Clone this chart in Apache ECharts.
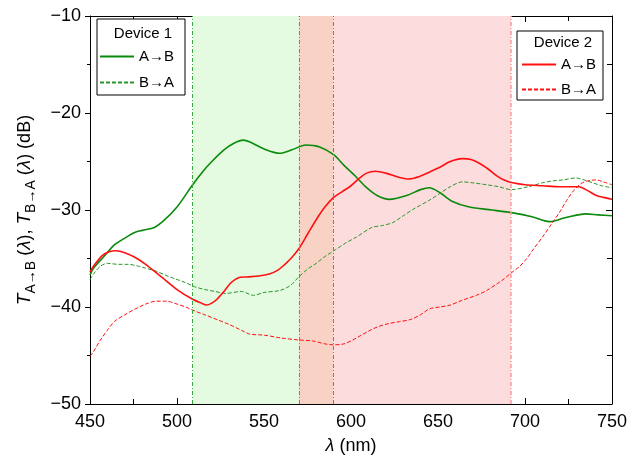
<!DOCTYPE html>
<html>
<head>
<meta charset="utf-8">
<script src="https://cdn.jsdelivr.net/npm/echarts@6/dist/echarts.min.js"></script>
<style>
  html, body { margin: 0; padding: 0; background: #fff; }
  #chart { width: 630px; height: 464px; }
</style>
</head>
<body>
<div id="chart"></div>
<script>
// wavelength (nm) and transmission (dB) for each trace
const wl1AB = [450, 452, 458, 464, 470, 476, 480, 487, 493, 500, 509, 515, 520, 527, 533, 538, 542, 550, 559, 566, 574, 582, 590, 596, 603, 609, 615, 622, 632, 640, 645, 651, 658, 668, 681, 693, 704, 714, 723, 735, 742, 750]
const dev1AB = [-36.7, -36.0, -34.8, -33.6, -32.9, -32.3, -32.1, -31.8, -31.0, -29.7, -27.4, -26.0, -25.0, -23.8, -23.1, -22.8, -23.0, -23.7, -24.15, -23.8, -23.3, -23.5, -24.3, -25.4, -26.6, -27.7, -28.5, -28.9, -28.5, -27.9, -27.7, -28.2, -29.1, -29.7, -30.0, -30.3, -30.7, -31.2, -30.8, -30.4, -30.5, -30.6]

const wl1BA = [450, 452, 456, 460, 466, 472, 478, 482, 488, 493, 499, 505, 510, 516, 522, 528, 537, 544, 550, 559, 565, 570, 575, 580, 585, 591, 597, 603, 612, 618, 624, 630, 636, 645, 651, 657, 664, 670, 678, 685, 692, 702, 710, 716, 722, 729, 734, 739, 744, 750]
const dev1BA = [-37.2, -36.6, -35.8, -35.5, -35.6, -35.6, -35.8, -36.0, -36.3, -36.7, -37.1, -37.5, -37.9, -38.2, -38.4, -38.6, -38.4, -38.8, -38.5, -38.3, -37.8, -36.9, -36.1, -35.5, -34.8, -34.1, -33.4, -32.8, -31.8, -31.6, -31.3, -30.6, -29.9, -29.0, -28.3, -27.6, -27.1, -27.2, -27.4, -27.6, -27.9, -27.6, -27.2, -27.0, -26.9, -26.7, -26.9, -27.2, -27.5, -27.7]

const wl2AB = [450, 452, 457, 461, 465, 470, 476, 482, 491, 500, 509, 514, 517, 520, 523, 527, 531, 535, 540, 547, 553, 558, 562, 566, 570, 575, 580, 585, 590, 595, 600, 605, 609, 614, 620, 627, 633, 640, 645, 651, 657, 664, 669, 674, 679, 684, 688, 693, 700, 710, 720, 731, 736, 741, 745, 750]
const dev2AB = [-36.4, -35.8, -34.7, -34.3, -34.2, -34.4, -34.9, -35.6, -36.9, -38.2, -39.2, -39.6, -39.8, -39.6, -39.2, -38.4, -37.5, -37.0, -36.9, -36.8, -36.6, -36.2, -35.6, -34.9, -34.0, -32.5, -31.0, -29.7, -28.7, -28.1, -27.5, -26.7, -26.2, -26.0, -26.2, -26.6, -26.8, -26.5, -26.1, -25.6, -25.0, -24.7, -24.8, -25.2, -25.8, -26.5, -26.9, -27.2, -27.4, -27.5, -27.6, -27.6, -28.0, -28.5, -28.7, -28.9]

const wl2BA = [450, 452, 456, 460, 464, 470, 476, 482, 488, 494, 500, 505, 510, 516, 523, 530, 537, 542, 550, 560, 570, 578, 585, 590, 596, 601, 606, 611, 616, 622, 628, 634, 640, 645, 651, 657, 664, 672, 678, 684, 688, 692, 697, 701, 705, 710, 715, 720, 724, 728, 732, 736, 741, 745, 750]
const dev2BA = [-45.1, -44.6, -43.4, -42.4, -41.5, -40.8, -40.2, -39.7, -39.4, -39.4, -39.7, -40.0, -40.4, -40.8, -41.3, -41.8, -42.4, -42.8, -42.9, -43.2, -43.4, -43.5, -43.8, -43.9, -43.8, -43.4, -42.9, -42.4, -42.0, -41.7, -41.5, -41.3, -40.8, -40.2, -40.0, -39.8, -39.3, -38.8, -38.3, -37.6, -37.1, -36.5, -35.8, -35.0, -34.0, -32.8, -31.5, -30.2, -29.0, -28.0, -27.3, -27.0, -26.9, -27.1, -27.4]

// shaded wavelength bands (nm)
const greenBand = [509, 590]
const redBand = [570, 692]

const GREEN = '#0a8a0a'
const RED = '#ff1010'
const FONT = 'Liberation Sans, Arial, sans-serif'

const pairs = (xs, ys) => xs.map((x, i) => [x, ys[i]])
const minus = (v) => String(v).replace('-', '\u2212')

const chart = echarts.init(document.getElementById('chart'))

const xBase = {
	type: 'value', min: 450, max: 750, interval: 50,
	axisLine: { onZero: false, lineStyle: { color: '#000', width: 1 } },
	splitLine: { show: false },
	minorTick: { show: true, splitNumber: 2, length: 5, lineStyle: { color: '#000' } },
	axisTick: { inside: true, length: 6, lineStyle: { color: '#000' } }
}
const yBase = {
	type: 'value', min: -50, max: -10, interval: 10,
	axisLine: { onZero: false, lineStyle: { color: '#000', width: 1 } },
	splitLine: { show: false },
	minorTick: { show: true, splitNumber: 2, length: 5, lineStyle: { color: '#000' } },
	axisTick: { inside: true, length: 6, lineStyle: { color: '#000' } }
}

// legend box with no marker dot, only the line sample
const legendBase = {
	orient: 'vertical',
	itemWidth: 34, itemHeight: 12,
	borderColor: '#000', borderWidth: 1, borderRadius: 0,
	backgroundColor: '#fff',
	itemStyle: { opacity: 0, color: 'transparent', borderWidth: 0 },
	textStyle: { fontSize: 15, color: '#000' },
	formatter: (name) => name.split(' ').pop()
}

chart.setOption({
	animation: false,
	textStyle: { fontFamily: FONT },
	grid: { left: 90, right: 17, top: 16, bottom: 60 },
	xAxis: [
		{
			...xBase,
			position: 'bottom',
			name: '{i|λ} (nm)',
			nameLocation: 'middle',
			nameGap: 33,
			nameTextStyle: { fontSize: 18, color: '#000', rich: { i: { fontStyle: 'italic', fontSize: 18 } } },
			axisLabel: { fontSize: 18, color: '#000', margin: 9 }
		},
		{ ...xBase, position: 'top', axisLabel: { show: false } }
	],
	yAxis: [
		{
			...yBase,
			position: 'left',
			axisTick: { inside: false, length: 5, lineStyle: { color: '#000' } },
			minorTick: { show: true, splitNumber: 2, length: 3, lineStyle: { color: '#000' } },
			name: '{i|T}{s|A→B} ({i|λ}), {i|T}{s|B→A} ({i|λ}) (dB)',
			nameLocation: 'middle',
			nameGap: 52,
			nameTextStyle: {
				fontSize: 18, color: '#000',
				rich: {
					i: { fontStyle: 'italic', fontSize: 19, verticalAlign: 'middle' },
					s: { fontSize: 14, verticalAlign: 'bottom', lineHeight: 26 }
				}
			},
			axisLabel: { fontSize: 18, color: '#000', margin: 9, formatter: minus }
		},
		{ ...yBase, position: 'right', axisLabel: { show: false } }
	],
	legend: [
		{
			...legendBase,
			data: ['Device 1 A→B', 'Device 1 B→A'],
			left: 97, top: 19,
			padding: [30, 11, 5, 2],
			itemGap: 11
		},
		{
			...legendBase,
			data: ['Device 2 A→B', 'Device 2 B→A'],
			left: 517, top: 31,
			padding: [26, 7, 3, 4],
			itemGap: 10
		}
	],
	graphic: [
		{ type: 'text', x: 143, y: 34, z: 100, style: { text: 'Device 1', font: '15px ' + FONT, fill: '#000', align: 'center', verticalAlign: 'middle' } },
		{ type: 'text', x: 563, y: 43, z: 100, style: { text: 'Device 2', font: '15px ' + FONT, fill: '#000', align: 'center', verticalAlign: 'middle' } }
	],
	series: [
		{
			name: 'Device 1 A→B', type: 'line', showSymbol: false, symbol: 'none', smooth: 0.3,
			data: pairs(wl1AB, dev1AB),
			lineStyle: { color: GREEN, width: 1.6 },
			itemStyle: { color: GREEN },
			markArea: {
				silent: true,
				data: [
					[{ xAxis: greenBand[0], itemStyle: { color: '#e4fbe2' } }, { xAxis: redBand[0] }],
					[{ xAxis: redBand[0], itemStyle: { color: '#f8d3c5' } }, { xAxis: greenBand[1] }],
					[{ xAxis: greenBand[1], itemStyle: { color: '#fddcdd' } }, { xAxis: redBand[1] }]
				]
			},
			markLine: {
				silent: true, symbol: 'none', label: { show: false },
				lineStyle: { width: 1, type: [4, 2, 1, 2] },
				data: [
					{ xAxis: greenBand[0], lineStyle: { color: '#3aa83a' } },
					{ xAxis: greenBand[1], lineStyle: { color: '#3aa83a' } },
					{ xAxis: redBand[0], lineStyle: { color: '#ff4a4a' } },
					{ xAxis: redBand[1], lineStyle: { color: '#ff9a9a', width: 1.5 } }
				]
			}
		},
		{
			name: 'Device 1 B→A', type: 'line', showSymbol: false, symbol: 'none', smooth: 0.3,
			data: pairs(wl1BA, dev1BA),
			lineStyle: { color: '#2a962a', width: 1, type: [4, 2] },
			itemStyle: { color: '#2a962a' }
		},
		{
			name: 'Device 2 A→B', type: 'line', showSymbol: false, symbol: 'none', smooth: 0.3,
			data: pairs(wl2AB, dev2AB),
			lineStyle: { color: RED, width: 1.6 },
			itemStyle: { color: RED }
		},
		{
			name: 'Device 2 B→A', type: 'line', showSymbol: false, symbol: 'none', smooth: 0.3,
			data: pairs(wl2BA, dev2BA),
			lineStyle: { color: RED, width: 1, type: [4, 2] },
			itemStyle: { color: RED }
		}
	]
})
</script>
</body>
</html>
